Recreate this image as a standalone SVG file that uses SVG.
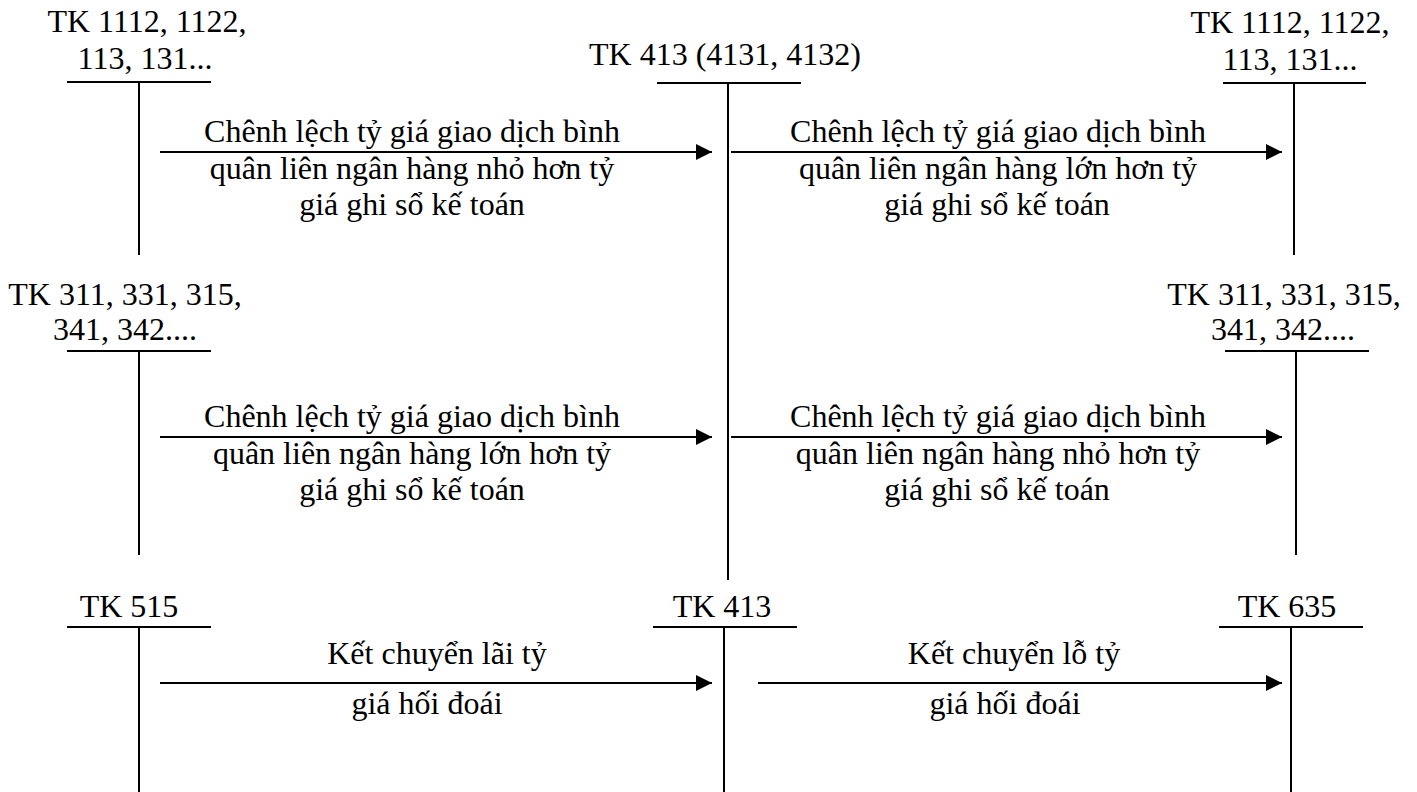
<svg xmlns="http://www.w3.org/2000/svg" width="1417" height="792" viewBox="0 0 1417 792">
<style>
text{font-family:"Liberation Serif","Times New Roman",serif;font-size:32px;fill:#000;text-anchor:middle}
.ln{stroke:#000;stroke-width:2;fill:none}
.ar{stroke:#000;stroke-width:2;fill:none;marker-end:url(#ah)}
</style>
<defs>
<marker id="ah" markerUnits="userSpaceOnUse" markerWidth="16" markerHeight="16" refX="16" refY="8" orient="auto" viewBox="0 0 16 16">
<path d="M0,0 L16,8 L0,16 z" fill="#000"/>
</marker>
</defs>
<rect width="1417" height="792" fill="#fff"/>
<g id="tk111-left">
<text x="147" y="32">TK 1112, 1122,</text>
<text x="145" y="69">113, 131...</text>
<line class="ln" x1="67" y1="82" x2="211" y2="82"/>
<line class="ln" x1="139" y1="82" x2="139" y2="255"/>
</g>
<g id="tk413-top">
<text x="725" y="65">TK 413 (4131, 4132)</text>
<line class="ln" x1="657" y1="83" x2="801" y2="83"/>
<line class="ln" x1="728" y1="83" x2="728" y2="580"/>
</g>
<g id="tk111-right">
<text x="1290" y="33">TK 1112, 1122,</text>
<text x="1290" y="70">113, 131...</text>
<line class="ln" x1="1223" y1="83" x2="1366" y2="83"/>
<line class="ln" x1="1294" y1="83" x2="1294" y2="255"/>
</g>
<g id="tk311-left">
<text x="125" y="305">TK 311, 331, 315,</text>
<text x="125" y="340">341, 342....</text>
<line class="ln" x1="67" y1="351" x2="211" y2="351"/>
<line class="ln" x1="139" y1="351" x2="139" y2="555"/>
</g>
<g id="tk311-right">
<text x="1284" y="305">TK 311, 331, 315,</text>
<text x="1283" y="340">341, 342....</text>
<line class="ln" x1="1225" y1="351" x2="1369" y2="351"/>
<line class="ln" x1="1296" y1="351" x2="1296" y2="555"/>
</g>
<g id="tk515">
<text x="129" y="617">TK 515</text>
<line class="ln" x1="67" y1="627" x2="211" y2="627"/>
<line class="ln" x1="139" y1="627" x2="139" y2="792"/>
</g>
<g id="tk413-bottom">
<text x="722" y="617">TK 413</text>
<line class="ln" x1="653" y1="627" x2="797" y2="627"/>
<line class="ln" x1="724" y1="627" x2="724" y2="792"/>
</g>
<g id="tk635">
<text x="1287" y="617">TK 635</text>
<line class="ln" x1="1219" y1="627" x2="1363" y2="627"/>
<line class="ln" x1="1291" y1="627" x2="1291" y2="792"/>
</g>
<g id="connectors">
<line class="ar" x1="160" y1="152" x2="712" y2="152"/>
<line class="ar" x1="731" y1="152" x2="1282" y2="152"/>
<line class="ar" x1="160" y1="437" x2="712" y2="437"/>
<line class="ar" x1="731" y1="437" x2="1282" y2="437"/>
<line class="ar" x1="160" y1="683" x2="712" y2="683"/>
<line class="ar" x1="758" y1="683" x2="1282" y2="683"/>
</g>
<g id="labels">
<text x="412" y="142">Chênh lệch tỷ giá giao dịch bình</text>
<text x="412" y="179">quân liên ngân hàng nhỏ hơn tỷ</text>
<text x="412" y="215">giá ghi sổ kế toán</text>
<text x="998" y="142">Chênh lệch tỷ giá giao dịch bình</text>
<text x="998" y="179">quân liên ngân hàng lớn hơn tỷ</text>
<text x="997" y="215">giá ghi sổ kế toán</text>
<text x="412" y="427">Chênh lệch tỷ giá giao dịch bình</text>
<text x="412" y="464">quân liên ngân hàng lớn hơn tỷ</text>
<text x="412" y="500">giá ghi sổ kế toán</text>
<text x="998" y="427">Chênh lệch tỷ giá giao dịch bình</text>
<text x="998" y="464">quân liên ngân hàng nhỏ hơn tỷ</text>
<text x="997" y="500">giá ghi sổ kế toán</text>
<text x="437" y="664">Kết chuyển lãi tỷ</text>
<text x="427" y="714">giá hối đoái</text>
<text x="1014" y="664">Kết chuyển lỗ tỷ</text>
<text x="1005" y="714">giá hối đoái</text>
</g>
</svg>
